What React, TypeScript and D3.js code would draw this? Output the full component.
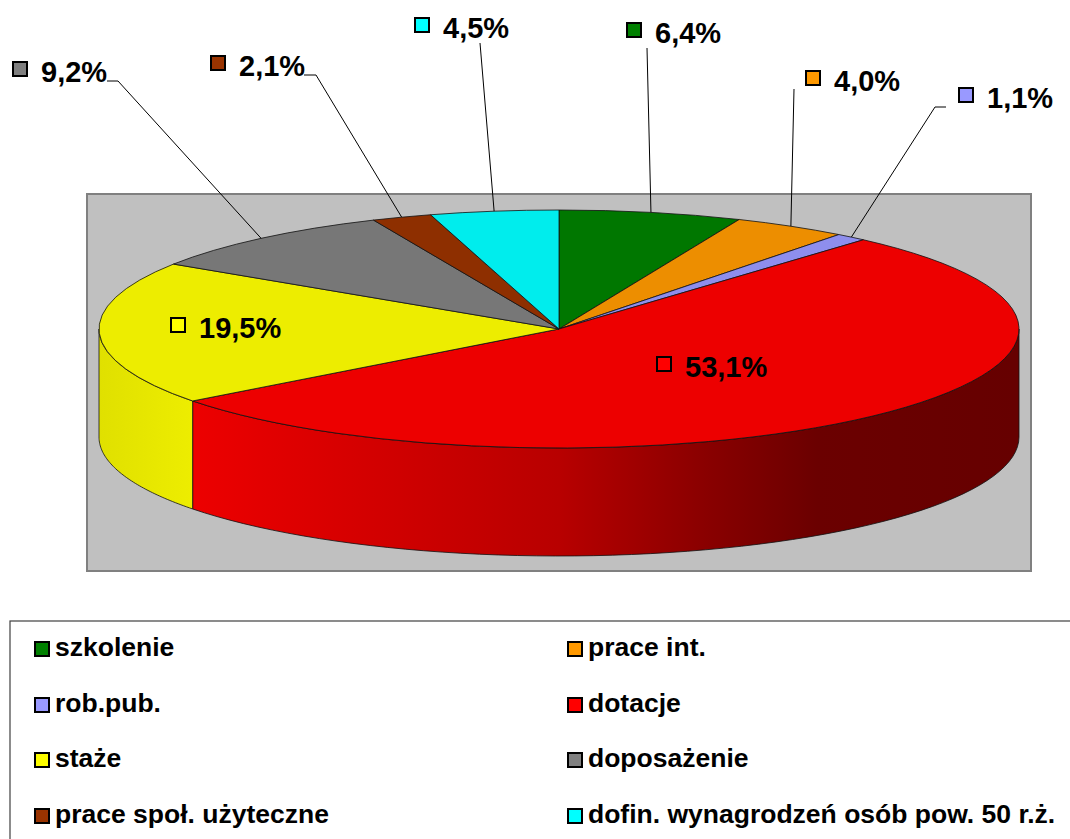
import * as d3 from "d3";

const categories = [
  "szkolenie",
  "prace int.",
  "rob.pub.",
  "dotacje",
  "staże",
  "doposażenie",
  "prace społ. użyteczne",
  "dofin. wynagrodzeń osób pow. 50 r.ż.",
];
const values = [6.4, 4.0, 1.1, 53.1, 19.5, 9.2, 2.1, 4.5];
const valueLabels = ["6,4%", "4,0%", "1,1%", "53,1%", "19,5%", "9,2%", "2,1%", "4,5%"];
const colors = ["#008000", "#FF9900", "#9999FF", "#FF0000", "#FFFF00", "#808080", "#993300", "#00FFFF"];

// label placement (marker top-left) and leader line starts, as excel left them
const labelPos = [
  [627, 23],
  [806, 71],
  [959, 88],
  [657, 357],
  [171, 318],
  [13, 62],
  [211, 56],
  [415, 18],
];
const leaderStarts = [
  [[647, 48]],
  [[794, 89]],
  [[946, 107], [935, 107]],
  [],
  [],
  [[107, 81], [118, 81]],
  [[304, 75], [316, 75]],
  [[480, 43]],
];

const W = 1070;
const H = 839;
const cx = 559;
const cy = 329;
const rx = 460;
const ry = 119;
const depth = 108;
const font = "'Liberation Sans', Arial, sans-serif";

const shade = (c, k) => {
  const r = d3.rgb(c);
  return d3.rgb(r.r * k, r.g * k, r.b * k).formatHex();
};

const pt = (a, dy = 0) => [cx + rx * Math.sin(a), cy - ry * Math.cos(a) + dy];

export default function App() {
  const arcs = d3.pie().sort(null).value((d) => d)(values);
  const arcGen = d3.arc().innerRadius(0).outerRadius(rx);
  const lineGen = d3.line();

  const sides = arcs
    .map((a, i) => {
      const a0 = Math.max(a.startAngle, Math.PI / 2);
      const a1 = Math.min(a.endAngle, (3 * Math.PI) / 2);
      if (a1 <= a0) return null;
      const steps = d3.range(61).map((k) => a0 + ((a1 - a0) * k) / 60);
      const top = steps.map((s) => pt(s));
      const bottom = steps.map((s) => pt(s, depth)).reverse();
      return { i, d: lineGen([...top, ...bottom]) + "Z" };
    })
    .filter(Boolean);

  const sideStops = [
    [0, 0.88],
    [0.1, 0.93],
    [0.5, 0.72],
    [0.65, 0.55],
    [0.78, 0.42],
    [1, 0.4],
  ];

  const col1 = 35;
  const col2 = 568;
  const rowY = [642, 698, 753, 809];

  return (
    <svg
      width={W}
      height={H}
      style={{ position: "absolute", left: 0, top: 0, background: "#fff" }}
      fontFamily={font}
    >
      <defs>
        {sides.map((s) => (
          <linearGradient
            key={s.i}
            id={`side-${s.i}`}
            gradientUnits="userSpaceOnUse"
            x1={cx - rx}
            x2={cx + rx}
            y1={0}
            y2={0}
          >
            {sideStops.map(([o, k]) => (
              <stop key={o} offset={o} stopColor={shade(colors[s.i], k)} />
            ))}
          </linearGradient>
        ))}
      </defs>

      <rect x={87} y={194} width={944} height={377} fill="#C0C0C0" stroke="#808080" strokeWidth={2} />

      {sides.map((s) => (
        <path key={s.i} d={s.d} fill={`url(#side-${s.i})`} stroke="#111" strokeWidth={0.8} strokeLinejoin="round" />
      ))}

      <g transform={`translate(${cx},${cy}) scale(1,${ry / rx})`}>
        {arcs.map((a, i) => (
          <path
            key={i}
            d={arcGen(a)}
            fill={shade(colors[i], 0.93)}
            stroke="#111"
            strokeWidth={0.8}
            vectorEffect="non-scaling-stroke"
          />
        ))}
      </g>

      <g stroke="#000" strokeWidth={1} fill="none">
        {arcs.map((a, i) => {
          if (!leaderStarts[i].length) return null;
          const end = pt((a.startAngle + a.endAngle) / 2);
          return <path key={i} d={lineGen([...leaderStarts[i], end])} />;
        })}
      </g>

      {arcs.map((a, i) => (
        <g key={i}>
          <rect
            x={labelPos[i][0]}
            y={labelPos[i][1]}
            width={14}
            height={14}
            fill={colors[i]}
            stroke="#000"
            strokeWidth={2}
          />
          <text x={labelPos[i][0] + 28} y={labelPos[i][1] + 20} fontSize={29} fontWeight="bold" fill="#000">
            {valueLabels[i]}
          </text>
        </g>
      ))}

      <rect x={10} y={621} width={1080} height={240} fill="#fff" stroke="#404040" strokeWidth={1.2} />
      {categories.map((c, i) => {
        const x = i % 2 === 0 ? col1 : col2;
        const y = rowY[Math.floor(i / 2)];
        return (
          <g key={c}>
            <rect x={x} y={y} width={14} height={14} fill={colors[i]} stroke="#000" strokeWidth={2} />
            <text x={x + 20} y={y + 14} fontSize={26.5} fontWeight="bold" fill="#000">
              {c}
            </text>
          </g>
        );
      })}
    </svg>
  );
}
